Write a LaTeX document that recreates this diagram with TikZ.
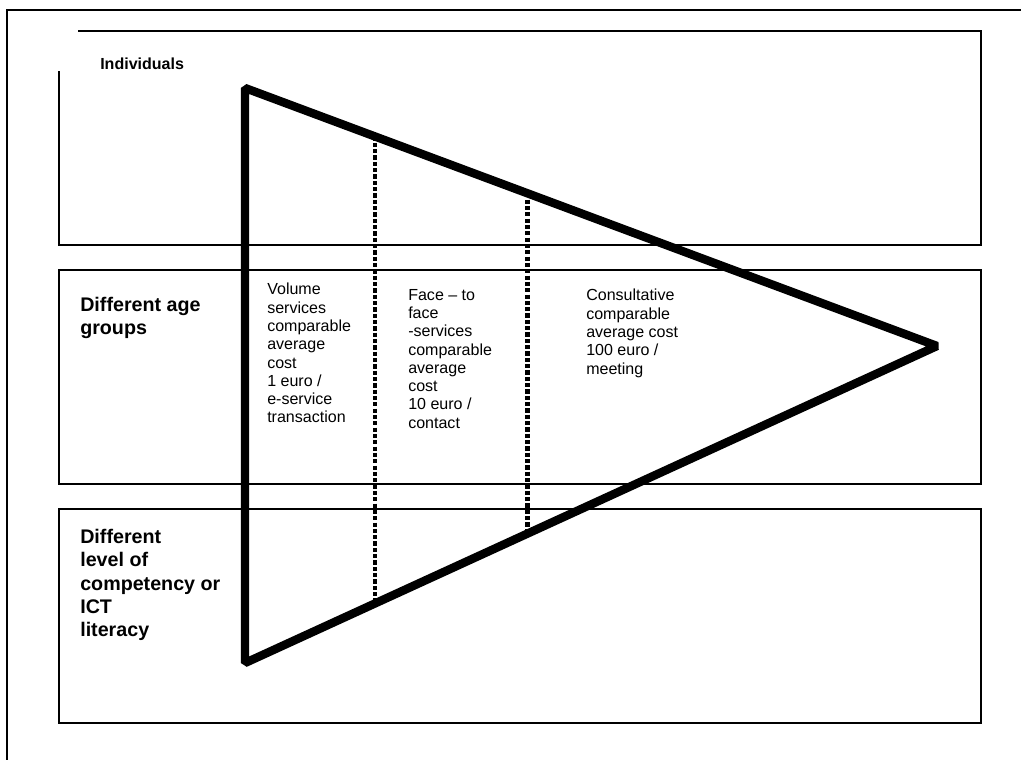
\documentclass[tikz,border=0pt]{standalone}
\usepackage{fontspec}
\setmainfont{Liberation Sans}
\usetikzlibrary{calc}

\begin{document}
\begin{tikzpicture}[x=0.025cm, y=-0.025cm, every node/.style={inner sep=0pt, anchor=north west, align=left, font=\fontsize{11.4}{13}\selectfont}]
	\useasboundingbox (0,0) rectangle (1021,760);
	% frame and the three lanes
	\draw[line width=0.8pt] (7,760) -- (7,10) -- (1021,10);
	\draw[line width=0.9pt] (78,31) -- (981,31) -- (981,245) -- (59,245) -- (59,71);
	\draw[line width=0.9pt] (59,270) rectangle (981,484);
	\draw[line width=0.9pt] (59,509) rectangle (981,723);
	\node[font=\bfseries\fontsize{11.4}{13}\selectfont] (indiv) at (100,58) {Individuals};
	\node[font=\bfseries\fontsize{14}{16.6}\selectfont] (age) at (80,297) {Different age\\groups};
	\node[font=\bfseries\fontsize{14}{16.6}\selectfont] (ict) at (80,529) {Different\\level of\\competency or\\ICT\\literacy};
	% the funnel
	\coordinate (top) at (245,88);
	\coordinate (bot) at (245,663);
	\coordinate (apex) at (937,346);
	\draw[line width=6pt, line join=bevel] (apex) -- (top) -- (bot) -- cycle;
	\draw[line width=3.4pt, dash pattern=on 3pt off 1.5pt] ($(top)!0.188!(apex)$) -- ($(bot)!0.188!(apex)$);
	\draw[line width=3.4pt, dash pattern=on 3pt off 1.5pt] ($(top)!0.408!(apex)$) -- ($(bot)!0.408!(apex)$);
	\node (volume) at (267,283) {Volume\\services\\comparable\\average\\cost\\1 euro /\\e-service\\transaction};
	\node (face) at (408,289) {Face -- to\\face\\-services\\comparable\\average\\cost\\10 euro /\\contact};
	\node (consult) at (586,289) {Consultative\\comparable\\average cost\\100 euro /\\meeting};
\end{tikzpicture}
\end{document}
